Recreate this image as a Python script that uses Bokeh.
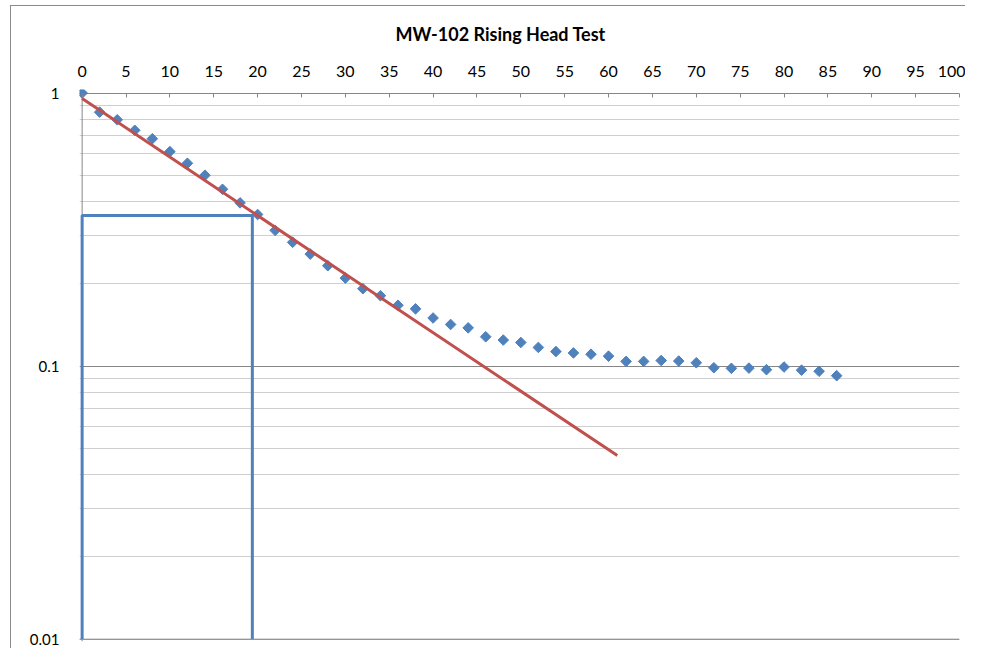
from bokeh.plotting import figure
from bokeh.models import FixedTicker, Range1d, Span
from bokeh.embed import file_html
from bokeh.resources import INLINE
import math

# ---- data ----
time_s = [0, 2, 4, 6, 8, 10, 12, 14, 16, 18, 20, 22, 24, 26, 28, 30, 32, 34, 36, 38,
          40, 42, 44, 46, 48, 50, 52, 54, 56, 58, 60, 62, 64, 66, 68, 70, 72, 74, 76,
          78, 80, 82, 84, 86]
head_ratio = [1.0, 0.851, 0.798, 0.730, 0.680, 0.610, 0.553, 0.500, 0.444, 0.396,
              0.359, 0.314, 0.284, 0.257, 0.233, 0.210, 0.192, 0.181, 0.167, 0.162,
              0.150, 0.142, 0.138, 0.128, 0.1245, 0.122, 0.117, 0.113, 0.1117, 0.1105,
              0.1087, 0.104, 0.104, 0.1048, 0.1043, 0.1028, 0.0986, 0.0981, 0.0983,
              0.0970, 0.0992, 0.0966, 0.0957, 0.0922]
trend_x = [0, 61]
trend_y = [0.955, 0.047]
box_x = [0, 0, 19.4, 19.4]
box_y = [0.01, 0.356, 0.356, 0.01]
x_ticks = [0, 5, 10, 15, 20, 25, 30, 35, 40, 45, 50, 55, 60, 65, 70, 75, 80, 85, 90, 95, 100]
y_ticks = [0.01, 0.1, 1]
y_tick_labels = {0.01: "0.01", 0.1: "0.1", 1: "1"}
y_minor = [0.02, 0.03, 0.04, 0.05, 0.06, 0.07, 0.08, 0.09,
           0.2, 0.3, 0.4, 0.5, 0.6, 0.7, 0.8, 0.9]
title_text = "MW-102 Rising Head Test"

FONT = "Lato"
BLUE = "#4F81BD"
RED = "#C0504D"
AXIS = "#868686"
BORDER = "#8a8a8a"

p = figure(width=965, height=648, output_backend="svg", toolbar_location=None,
           x_axis_location="above", y_axis_type="log",
           x_range=Range1d(-0.3, 100), y_range=Range1d(0.0098, 1.03),
           min_border_left=79, min_border_right=6, min_border_top=89, min_border_bottom=7,
           title=title_text)

p.styles = {
    "background": (f"linear-gradient({BORDER},{BORDER}) 10px 5px / 100% 1px no-repeat, "
                   f"linear-gradient({BORDER},{BORDER}) 10px 5px / 1px 100% no-repeat")
}
p.border_fill_color = None
p.background_fill_color = "white"
p.outline_line_color = None

p.title.text_font = FONT
p.title.text_font_size = "18px"
p.title.text_font_style = "bold"
p.title.text_color = "black"
p.title.align = "left"
p.title.offset = 316
p.title.standoff = 36

xa = p.xaxis[0]
xa.ticker = FixedTicker(ticks=x_ticks)
xa.bounds = (0, 100)
xa.axis_line_color = None
xa.major_tick_line_color = AXIS
xa.major_tick_in = 8
xa.major_tick_out = -4
xa.minor_tick_line_color = None
xa.major_label_text_font = FONT
xa.major_label_text_font_size = "16px"
xa.major_label_text_color = "black"
xa.major_label_standoff = 13

ya = p.yaxis[0]
ya.ticker = FixedTicker(ticks=y_ticks, minor_ticks=y_minor)
ya.major_label_overrides = y_tick_labels
ya.axis_line_color = None
ya.major_tick_line_color = None
ya.major_tick_out = 0
ya.major_tick_in = 0
ya.minor_tick_line_color = None
ya.major_label_text_font = FONT
ya.major_label_text_font_size = "15px"
ya.major_label_text_color = "black"
ya.major_label_standoff = 16

p.xgrid.grid_line_color = None
p.ygrid.grid_line_color = AXIS
p.ygrid.minor_grid_line_color = "#CFCFCF"
p.ygrid.minor_grid_line_width = 1

# vertical value-axis line at x = 0 and the bottom gridline at 0.01
p.add_layout(Span(location=0, dimension="height", line_color=AXIS,
                  line_width=1, level="underlay"))
p.add_layout(Span(location=0.01, dimension="width", line_color="#A0A0A0",
                  line_width=1, level="underlay"))

p.line(box_x, box_y, line_color=BLUE, line_width=3)
p.scatter(time_s, head_ratio, marker="square", size=7.5, angle=math.pi / 4,
          fill_color=BLUE, line_color=BLUE)
p.line(trend_x, trend_y, line_color=RED, line_width=3)

open("out.html", "w").write(file_html(p, INLINE))
